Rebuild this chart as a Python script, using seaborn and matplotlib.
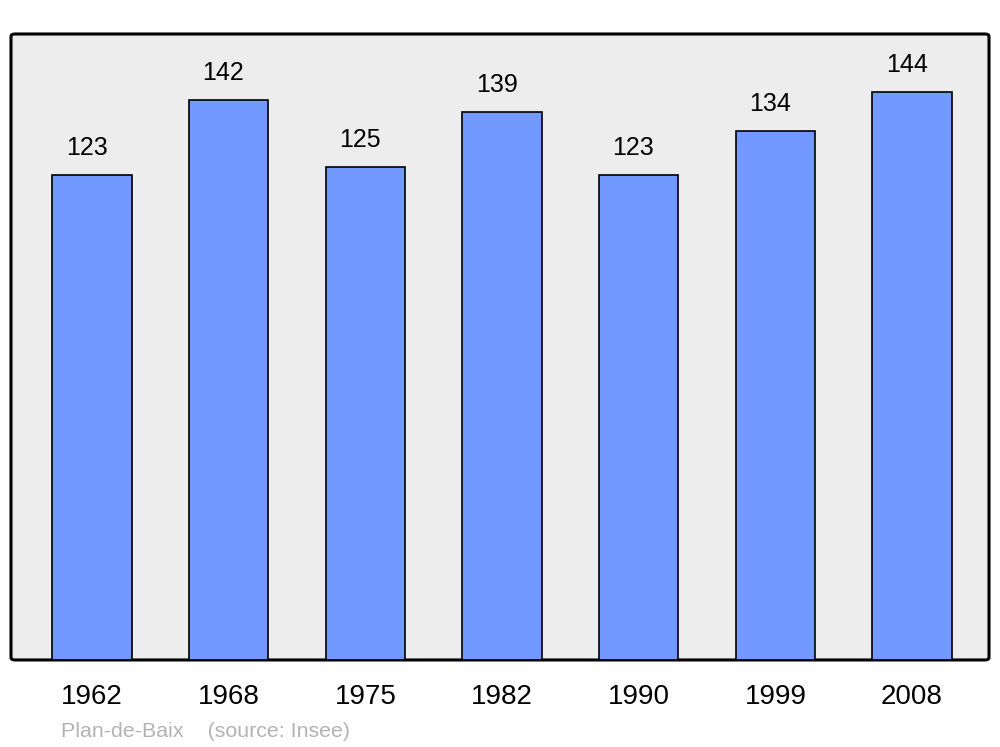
import numpy as np
import pandas as pd
import matplotlib
matplotlib.use('Agg')
import matplotlib.pyplot as plt
import seaborn as sns
from matplotlib.patches import FancyBboxPatch

years = ['1962', '1968', '1975', '1982', '1990', '1999', '2008']
population = [123, 142, 125, 139, 123, 134, 144]
town = 'Plan-de-Baix'
source = '(source: Insee)'

sns.set_style('white')
plt.rcParams['font.family'] = ['Liberation Sans', 'DejaVu Sans']
plt.rcParams['text.color'] = 'black'
plt.rcParams['xtick.color'] = 'black'

df = pd.DataFrame({'year': years, 'pop': population})

fig = plt.figure(figsize=(10, 7.47), dpi=100)
ax = fig.add_axes([0.011, 0.1165, 0.978, 0.838])
ax.patch.set_visible(False)
for s in ax.spines.values():
    s.set_visible(False)

# rounded grey frame behind the bars
frame = FancyBboxPatch((0, 0), 1, 1, boxstyle='round,pad=0,rounding_size=0.004',
                       transform=ax.transAxes, facecolor='#ededed',
                       edgecolor='black', linewidth=2.2, zorder=0, clip_on=False)
ax.add_patch(frame)

sns.barplot(data=df, x='year', y='pop', color='#7299ff', saturation=1,
            width=0.58, edgecolor='black', linewidth=1.2, ax=ax, zorder=2)

for i, v in enumerate(population):
    ax.text(i - 0.04, v + 3.8, str(v), ha='center', va='bottom', fontsize=18,
            color='black')

ax.set_xlim(-0.593, 6.563)
ax.set_ylim(0, 158.7)
ax.set_yticks([])
ax.tick_params(axis='x', length=0, pad=17, labelsize=20, labelcolor='black')
ax.set_xlabel('')
ax.set_ylabel('')

fig.text(0.061, 0.013, town + '    ' + source, color='#b3b3b3', fontsize=15.4,
         ha='left', va='baseline')

fig.savefig('out.png', dpi=100)
